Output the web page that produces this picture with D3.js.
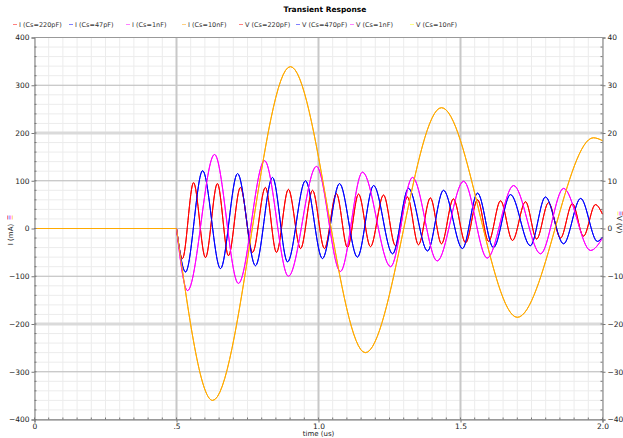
<!DOCTYPE html>
<html>
<head>
<meta charset="utf-8">
<script src="https://cdn.jsdelivr.net/npm/d3@7"></script>
<style>
  body { margin: 0; background: #fff; }
  svg { display: block; font-family: "DejaVu Sans", sans-serif; }
</style>
</head>
<body>
<svg id="chart" width="623" height="438"></svg>
<script>
// time axis (us)
const timeTicks = [0, 0.5, 1.0, 1.5, 2.0];
const timeLabels = ["0", ".5", "1.0", "1.5", "2.0"];
const currentTicks = [-400, -300, -200, -100, 0, 100, 200, 300, 400];
const voltTicks = [-40, -30, -20, -10, 0, 10, 20, 30, 40];

const seriesNames = ["I (Cs=220pF)", "I (Cs=47pF)", "I (Cs=1nF)", "I (Cs=10nF)",
                     "V (Cs=220pF)", "V (Cs=470pF)", "V (Cs=1nF)", "V (Cs=10nF)"];

// [time us, current mA] - peaks and troughs
const i220 = [[0,0],[0.5,0],[0.521,-63],[0.560,96],[0.602,-61],[0.644,94],[0.683,-57],[0.725,86],
  [0.768,-50],[0.813,86],[0.852,-50],[0.894,82],[0.937,-42],[0.979,80],[1.021,-42],[1.063,73],
  [1.102,-40],[1.141,72],[1.183,-38],[1.229,70],[1.271,-36],[1.313,66],[1.352,-34],[1.394,64],
  [1.433,-32],[1.475,62],[1.518,-30],[1.560,60],[1.599,-27],[1.641,58],[1.683,-25],[1.729,56],
  [1.768,-22],[1.810,54],[1.852,-20],[1.894,52],[1.933,-16],[1.975,50],[2.0,30]];

const i47 = [[0,0],[0.5,0],[0.532,-91],[0.592,121],[0.655,-84],[0.715,115],[0.778,-78],[0.838,107],
  [0.891,-70],[0.954,100],[1.014,-63],[1.074,94],[1.137,-60],[1.194,90],[1.261,-53],[1.317,84],
  [1.384,-47],[1.440,80],[1.507,-42],[1.560,74],[1.616,-40],[1.676,71],[1.746,-36],[1.799,66],
  [1.863,-32],[1.923,63],[1.982,-27],[2.0,-18]];

const i1n = [[0,0],[0.5,0],[0.539,-130],[0.634,155],[0.718,-115],[0.810,142],[0.894,-100],[0.993,130],
  [1.077,-90],[1.155,118],[1.254,-80],[1.331,107],[1.418,-68],[1.511,99],[1.594,-62],[1.687,90],
  [1.782,-53],[1.863,84],[1.958,-46],[2.0,-20]];

const i10n = [[0,0],[0.5,0],[0.627,-360],[0.901,339],[1.165,-260],[1.433,253],[1.700,-186],
  [1.968,190],[2.0,184]];

// [time us, volts] - voltage traces, lying under the current traces
const v220 = [[0,0],[0.5,0],[0.521,-6.3],[0.560,9.6],[0.602,-6.1],[0.644,9.4],[0.683,-5.7],[0.725,8.6],
  [0.768,-5.0],[0.813,8.6],[0.852,-5.0],[0.894,8.2],[0.937,-4.2],[0.979,8.0],[1.021,-4.2],[1.063,7.3],
  [1.102,-4.0],[1.141,7.2],[1.183,-3.8],[1.229,7.0],[1.271,-3.6],[1.313,6.6],[1.352,-3.4],[1.394,6.4],
  [1.433,-3.2],[1.475,6.2],[1.518,-3.0],[1.560,6.0],[1.599,-2.7],[1.641,5.8],[1.683,-2.5],[1.729,5.6],
  [1.768,-2.2],[1.810,5.4],[1.852,-2.0],[1.894,5.2],[1.933,-1.6],[1.975,5.0],[2.0,3.0]];
const v470 = [[0,0],[0.5,0],[0.532,-9.1],[0.592,12.1],[0.655,-8.4],[0.715,11.5],[0.778,-7.8],[0.838,10.7],
  [0.891,-7.0],[0.954,10.0],[1.014,-6.3],[1.074,9.4],[1.137,-6.0],[1.194,9.0],[1.261,-5.3],[1.317,8.4],
  [1.384,-4.7],[1.440,8.0],[1.507,-4.2],[1.560,7.4],[1.616,-4.0],[1.676,7.1],[1.746,-3.6],[1.799,6.6],
  [1.863,-3.2],[1.923,6.3],[1.982,-2.7],[2.0,-1.8]];
const v1n = [[0,0],[0.5,0],[0.539,-13.0],[0.634,15.5],[0.718,-11.5],[0.810,14.2],[0.894,-10.0],[0.993,13.0],
  [1.077,-9.0],[1.155,11.8],[1.254,-8.0],[1.331,10.7],[1.418,-6.8],[1.511,9.9],[1.594,-6.2],[1.687,9.0],
  [1.782,-5.3],[1.863,8.4],[1.958,-4.6],[2.0,-2.0]];
const v10n = [[0,0],[0.5,0],[0.627,-36.0],[0.901,33.9],[1.165,-26.0],[1.433,25.3],[1.700,-18.6],
  [1.968,19.0],[2.0,18.4]];

const lineColors = ["#ff0000", "#0000ff", "#ff00ff", "#ffaa00", "#ff0000", "#0000ff", "#ff00ff", "#ffaa00"];
const legendColors = ["#ff8080", "#8080ff", "#ff80ff", "#ffd080", "#ff8080", "#8080ff", "#ff80ff", "#ffff80"];

const width = 623, height = 438;
// half-pixel offsets keep the 1px grid lines crisp
const plotLeft = 34.5, plotRight = 602.5, plotTop = 37.5, plotBottom = 419.5;

const svg = d3.select("#chart");

const x = d3.scaleLinear().domain([0, 2]).range([plotLeft, plotRight]);
const yI = d3.scaleLinear().domain([-400, 400]).range([plotBottom, plotTop]);
const yV = d3.scaleLinear().domain([-40, 40]).range([plotBottom, plotTop]);

// grid - minor
const grid = svg.append("g");
grid.selectAll(".vminor")
  .data(d3.range(0, 2.0001, 0.05))
  .join("line")
    .attr("x1", d => x(d)).attr("x2", d => x(d))
    .attr("y1", plotTop).attr("y2", plotBottom)
    .attr("stroke", "#ececec");
grid.selectAll(".hminor")
  .data(d3.range(-400, 401, 20))
  .join("line")
    .attr("x1", plotLeft).attr("x2", plotRight)
    .attr("y1", d => yI(d)).attr("y2", d => yI(d))
    .attr("stroke", "#ececec");
// grid - major
grid.selectAll(".hmajor")
  .data(currentTicks)
  .join("line")
    .attr("x1", plotLeft).attr("x2", plotRight)
    .attr("y1", d => yI(d)).attr("y2", d => yI(d))
    .attr("stroke", d => Math.abs(d) == 200 ? "#dadada" : "#bdbdbd")
    .attr("stroke-width", d => Math.abs(d) == 200 ? 3 : 1);
grid.selectAll(".vmajor")
  .data(timeTicks.slice(1, -1))
  .join("line")
    .attr("x1", d => x(d)).attr("x2", d => x(d))
    .attr("y1", plotTop).attr("y2", plotBottom)
    .attr("stroke", "#c8c8c8")
    .attr("stroke-width", 2);

// traces
const line = d3.line().x(d => x(d[0])).curve(d3.curveMonotoneX);
const flat = d3.line().x(d => x(d[0]));

function trace(data, yScale, color) {
  line.y(d => yScale(d[1]));
  flat.y(d => yScale(d[1]));
  svg.append("path")
    .attr("d", flat(data.slice(0, 2)) + line(data.slice(1)))
    .attr("fill", "none")
    .attr("stroke", color)
    .attr("stroke-width", 1);
}

const currents = [i220, i47, i1n, i10n];
const volts = [v220, v470, v1n, v10n];
volts.forEach((s, k) => trace(s, yV, lineColors[k + 4]));
currents.forEach((s, k) => trace(s, yI, lineColors[k]));

// axes
const axisColor = "#777";
const fontSize = 7.5;

const left = svg.append("g").attr("transform", `translate(${plotLeft},0)`)
  .call(d3.axisLeft(yI).tickValues(currentTicks).tickSize(3).tickPadding(2));
const right = svg.append("g").attr("transform", `translate(${plotRight},0)`)
  .call(d3.axisRight(yV).tickValues(voltTicks).tickSize(3).tickPadding(2));
const bottom = svg.append("g").attr("transform", `translate(0,${plotBottom})`)
  .call(d3.axisBottom(x).tickValues(timeTicks).tickFormat((d, i) => timeLabels[i]).tickSize(3).tickPadding(1));

// minor ticks inside
svg.append("g").selectAll("line")
  .data(d3.range(-400, 401, 20))
  .join("line")
    .attr("x1", plotLeft).attr("x2", plotLeft + 2)
    .attr("y1", d => yI(d)).attr("y2", d => yI(d))
    .attr("stroke", axisColor);
svg.append("g").selectAll("line")
  .data(d3.range(-40, 41, 2))
  .join("line")
    .attr("x1", plotRight - 2).attr("x2", plotRight)
    .attr("y1", d => yV(d)).attr("y2", d => yV(d))
    .attr("stroke", axisColor);
svg.append("g").selectAll("line")
  .data(d3.range(0, 2.0001, 0.05))
  .join("line")
    .attr("x1", d => x(d)).attr("x2", d => x(d))
    .attr("y1", plotBottom - 2).attr("y2", plotBottom)
    .attr("stroke", axisColor);

[left, right, bottom].forEach(g => {
  g.select(".domain").attr("stroke", axisColor);
  g.selectAll(".tick line").attr("stroke", axisColor);
  g.selectAll(".tick text").attr("fill", "#222").style("font-size", fontSize + "px")
    .style("font-family", "DejaVu Sans");
});

// top frame
svg.append("line")
  .attr("x1", plotLeft).attr("x2", plotRight)
  .attr("y1", plotTop).attr("y2", plotTop)
  .attr("stroke", "#999");

// title
svg.append("text")
  .attr("x", 325).attr("y", 12)
  .attr("text-anchor", "middle")
  .style("font-size", "7.5px").style("font-weight", "bold")
  .text("Transient Response");

// legend
const legendX = [13, 69, 126, 182, 239, 296, 350, 410];
const legend = svg.append("g").style("font-size", "6.5px").attr("fill", "#333");
seriesNames.forEach((name, k) => {
  legend.append("line")
    .attr("x1", legendX[k]).attr("x2", legendX[k] + 4)
    .attr("y1", 24.5).attr("y2", 24.5)
    .attr("stroke", legendColors[k]).attr("stroke-width", 1);
  legend.append("text")
    .attr("x", legendX[k] + 6).attr("y", 27)
    .text(name);
});

// axis titles
svg.append("text")
  .attr("x", x(1)).attr("y", 436)
  .attr("text-anchor", "middle")
  .style("font-size", "7px").attr("fill", "#222")
  .text("time (us)");

const lt = svg.append("g").attr("transform", `translate(13,${yI(0)}) rotate(-90)`);
lt.append("text").attr("text-anchor", "middle").attr("x", -6)
  .style("font-size", "7px").attr("fill", "#222").text("I (mA)");
legendColors.slice(0, 4).forEach((c, k) => {
  lt.append("line").attr("x1", 9).attr("x2", 13)
    .attr("y1", -5.5 + k * 1.6).attr("y2", -5.5 + k * 1.6)
    .attr("stroke", c).attr("stroke-width", 1);
});
const rt = svg.append("g").attr("transform", `translate(617,${yV(0)}) rotate(90)`);
rt.append("text").attr("text-anchor", "middle").attr("x", -4)
  .style("font-size", "7px").attr("fill", "#222").text("V (V)");
legendColors.slice(4).forEach((c, k) => {
  rt.append("line").attr("x1", -17).attr("x2", -13)
    .attr("y1", -5.5 + k * 1.6).attr("y2", -5.5 + k * 1.6)
    .attr("stroke", c).attr("stroke-width", 1);
});
</script>
</body>
</html>
